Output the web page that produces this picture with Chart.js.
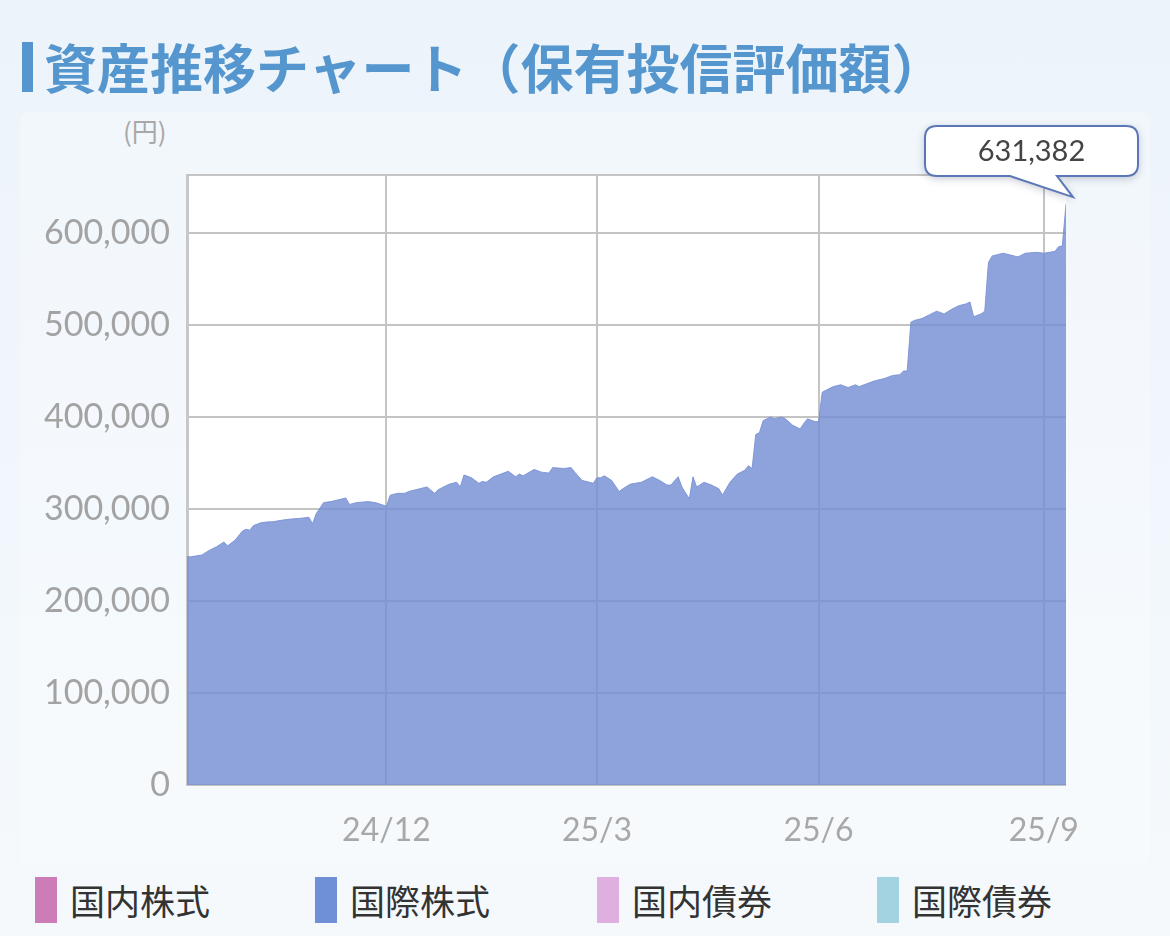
<!DOCTYPE html>
<html lang="ja">
<head>
<meta charset="utf-8">
<script src="https://cdn.jsdelivr.net/npm/chart.js@4.4.1/dist/chart.umd.min.js"></script>
<style>
  html, body { margin: 0; padding: 0; }
  body {
    width: 1170px; height: 936px; overflow: hidden; position: relative;
    background: linear-gradient(180deg, #ecf3fa 0%, #f1f7fc 55%, #f5f9fc 100%);
    font-family: "Noto Sans CJK JP", sans-serif;
  }
  .title-bar { position: absolute; left: 22px; top: 42px; width: 11px; height: 50px; background: #5496cd; }
  .title { position: absolute; left: 44px; top: 36px; font-size: 53px; line-height: 60px; font-weight: 700; color: #5496cd; white-space: nowrap; }
  .panel { position: absolute; left: 20px; top: 112px; width: 1130px; height: 752px; background: rgba(255,255,255,0.25); border-radius: 8px; }
  .unit { position: absolute; left: 123px; top: 112px; font-size: 26px; color: #a8a8a8; }
  #chart { position: absolute; left: 0; top: 110px; }
  .legend-item { position: absolute; top: 877px; height: 46px; display: flex; align-items: center; }
  .legend-item i { display: block; width: 22px; height: 46px; margin-right: 13px; }
  .legend-item span { font-size: 35px; color: #333; line-height: 46px; }
</style>
</head>
<body>
<div class="title-bar"></div>
<div class="title">資産推移チャート（保有投信評価額）</div>
<div class="panel"></div>
<div class="unit">(円)</div>
<canvas id="chart" width="1170" height="750"></canvas>
<div id="legend"></div>
<script>
// 営業日インデックスと評価額（円）
const tradingDays = [
  0, 1, 4, 6, 8, 10, 11, 13, 15, 16,
  17, 18, 20, 22, 23, 26, 28, 31, 33, 34,
  35, 37, 39, 41, 43, 44, 46, 49, 51, 54,
  55, 57, 59, 60, 63, 65, 67, 68, 71, 73,
  74, 75, 77, 79, 80, 81, 83, 85, 87, 89,
  90, 91, 94, 96, 98, 99, 102, 104, 105, 107,
  109, 110, 111, 112, 113, 115, 117, 118, 120, 123,
  126, 128, 130, 131, 133, 134, 136, 137, 138, 140,
  142, 144, 145, 147, 149, 151, 152, 153, 154, 155,
  156, 158, 159, 161, 162, 164, 166, 167, 168, 170,
  171, 172, 173, 175, 177, 179, 181, 182, 184, 186,
  189, 191, 193, 194, 195, 196, 197, 199, 201, 203,
  205, 207, 209, 211, 212, 213, 215, 216, 217, 218,
  221, 223, 225, 227, 230, 232, 235, 236, 237, 238
];
const intlStockValues = [
  248000, 248000, 250000, 255000, 259000, 264000, 260000, 266000, 276000, 278000,
  277000, 282000, 285000, 286000, 286000, 288000, 289000, 290000, 291000, 284000,
  295000, 307000, 308000, 310000, 312000, 305000, 307000, 308000, 307000, 303000,
  315000, 317000, 317000, 319000, 322000, 324000, 317000, 321000, 327000, 329000,
  324000, 337000, 334000, 328000, 330000, 329000, 335000, 338000, 341000, 335000,
  338000, 336000, 343000, 340000, 339000, 345000, 344000, 345000, 340000, 331000,
  329000, 328000, 334000, 334000, 336000, 331000, 319000, 322000, 327000, 329000,
  335000, 331000, 326000, 326000, 335000, 324000, 311000, 335000, 324000, 329000,
  326000, 322000, 315000, 329000, 338000, 342000, 347000, 344000, 381000, 383000,
  396000, 400000, 398000, 400000, 398000, 391000, 387000, 393000, 398000, 395000,
  395000, 427000, 429000, 433000, 435000, 432000, 435000, 433000, 436000, 439000,
  442000, 445000, 446000, 450000, 450000, 503000, 505000, 507000, 511000, 515000,
  512000, 517000, 521000, 523000, 525000, 509000, 512000, 515000, 568000, 575000,
  578000, 576000, 574000, 578000, 579000, 578000, 580000, 585000, 586000, 631382
];
const xTickDays = [54, 111, 171, 232];
const xTickLabels = ['24/12', '25/3', '25/6', '25/9'];
const yTicks = [0, 100000, 200000, 300000, 400000, 500000, 600000];
const yMax = 663000;
const xMax = 238;

const legendNames = ['国内株式', '国際株式', '国内債券', '国際債券'];
const legendColors = ['#cc7db8', '#6f8fd6', '#dfafdf', '#a3d3e0'];
const legendLefts = [35, 315, 597, 877];

// 凡例
const legendEl = document.getElementById('legend');
legendNames.forEach(function(name, i) {
  const item = document.createElement('div');
  item.className = 'legend-item';
  item.style.left = legendLefts[i] + 'px';
  item.innerHTML = '<i style="background:' + legendColors[i] + '"></i><span>' + name + '</span>';
  legendEl.appendChild(item);
});

const fmt = v => Number(v).toLocaleString('en-US');

// 白い描画領域と上枠
const areaFrame = {
  id: 'areaFrame',
  beforeDraw(chart) {
    const a = chart.chartArea, c = chart.ctx;
    c.save();
    c.fillStyle = '#ffffff';
    c.fillRect(a.left, a.top, a.right - a.left, a.bottom - a.top);
    c.restore();
  },
  beforeDatasetsDraw(chart) {
    const a = chart.chartArea, c = chart.ctx;
    c.save();
    c.strokeStyle = '#c4c4c4';
    c.lineWidth = 2;
    c.beginPath();
    c.moveTo(a.left, a.top);
    c.lineTo(a.right, a.top);
    c.stroke();
    c.restore();
  }
};

// 最新値の吹き出し
const lastBubble = {
  id: 'lastBubble',
  afterDraw(chart) {
    const meta = chart.getDatasetMeta(0);
    const pt = meta.data[meta.data.length - 1];
    const c = chart.ctx;
    const x = pt.x, y = pt.y;
    const l = x - 141, r = x + 72, t = y - 78, b = y - 28, rad = 12;
    c.save();
    c.beginPath();
    c.moveTo(l + rad, t);
    c.lineTo(r - rad, t);
    c.quadraticCurveTo(r, t, r, t + rad);
    c.lineTo(r, b - rad);
    c.quadraticCurveTo(r, b, r - rad, b);
    c.lineTo(x - 9, b);
    c.lineTo(x + 7, y - 7);
    c.lineTo(x - 56, b);
    c.lineTo(l + rad, b);
    c.quadraticCurveTo(l, b, l, b - rad);
    c.lineTo(l, t + rad);
    c.quadraticCurveTo(l, t, l + rad, t);
    c.closePath();
    c.shadowColor = 'rgba(40,50,80,0.3)';
    c.shadowBlur = 8;
    c.shadowOffsetY = 2;
    c.fillStyle = '#ffffff';
    c.fill();
    c.shadowColor = 'transparent';
    c.strokeStyle = '#5b77b6';
    c.lineWidth = 2;
    c.stroke();
    c.fillStyle = '#444444';
    c.font = '29px Lato';
    c.textAlign = 'center';
    c.textBaseline = 'middle';
    c.fillText(fmt(intlStockValues[intlStockValues.length - 1]), (l + r) / 2, (t + b) / 2 + 1);
    c.restore();
  }
};

new Chart(document.getElementById('chart'), {
  type: 'line',
  data: {
    datasets: [{
      label: '国際株式',
      data: tradingDays.map((d, i) => ({ x: d, y: intlStockValues[i] })),
      fill: 'origin',
      backgroundColor: 'rgba(117,143,212,0.82)',
      borderColor: 'rgba(117,143,212,0.85)',
      borderWidth: 1,
      pointRadius: 0,
      tension: 0
    }]
  },
  options: {
    responsive: false,
    animation: false,
    layout: { padding: { top: 65, right: 104, left: 0, bottom: 0 } },
    plugins: { legend: { display: false }, tooltip: { enabled: false } },
    scales: {
      x: {
        type: 'linear',
        min: 0,
        max: xMax,
        afterBuildTicks: s => { s.ticks = xTickDays.map(v => ({ value: v })); },
        afterFit: s => { s.height = 75; },
        grid: { color: '#c4c4c4', lineWidth: 2, drawTicks: false },
        border: { display: false },
        ticks: {
          padding: 26,
          color: '#a8a8a8',
          font: { family: 'Lato', size: 32 },
          maxRotation: 0,
          callback: v => xTickLabels[xTickDays.indexOf(v)]
        }
      },
      y: {
        min: 0,
        max: yMax,
        afterBuildTicks: s => { s.ticks = yTicks.map(v => ({ value: v })); },
        afterFit: s => { s.width = 187; },
        grid: { color: '#c4c4c4', lineWidth: 2, drawTicks: false },
        border: { display: true, color: '#c8c8c8', width: 3 },
        ticks: {
          padding: 17,
          color: '#a3a3a3',
          font: { family: 'Lato', size: 34 },
          callback: v => fmt(v)
        }
      }
    }
  },
  plugins: [areaFrame, lastBubble]
});
</script>
</body>
</html>
